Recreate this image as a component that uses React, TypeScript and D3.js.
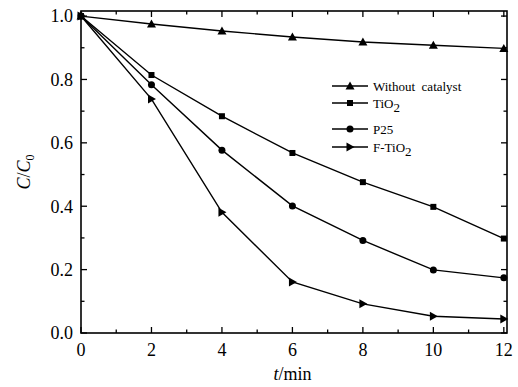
import React from 'react';
import * as d3 from 'd3';

const width = 518;
const height = 387;
const margin = { top: 11, right: 11, bottom: 54, left: 81 };

const times = [0, 2, 4, 6, 8, 10, 12];
const withoutCatalyst = [1.0, 0.975, 0.953, 0.934, 0.918, 0.908, 0.898];
const tio2 = [1.0, 0.814, 0.684, 0.568, 0.476, 0.398, 0.298];
const p25 = [1.0, 0.783, 0.577, 0.401, 0.292, 0.199, 0.174];
const fTio2 = [1.0, 0.738, 0.381, 0.161, 0.092, 0.053, 0.044];

const xTicks = [0, 2, 4, 6, 8, 10, 12];
const yTicks = [0.0, 0.2, 0.4, 0.6, 0.8, 1.0];

const font = "'Liberation Serif', 'DejaVu Serif', serif";

type MarkerKind = 'triangle' | 'square' | 'circle' | 'right';

const series: { name: string; sub?: string; values: number[]; marker: MarkerKind }[] = [
	{ name: 'Without  catalyst', values: withoutCatalyst, marker: 'triangle' },
	{ name: 'TiO', sub: '2', values: tio2, marker: 'square' },
	{ name: 'P25', values: p25, marker: 'circle' },
	{ name: 'F-TiO', sub: '2', values: fTio2, marker: 'right' }
];

const Marker = ({ kind, x, y }: { kind: MarkerKind; x: number; y: number }) => {
	if (kind === 'square') return <rect x={x - 3} y={y - 3} width={6} height={6} fill="#000" />;
	if (kind === 'circle') return <circle cx={x} cy={y} r={3.5} fill="#000" />;
	if (kind === 'triangle')
		return <path d={`M${x},${y - 4.5}L${x + 4.5},${y + 3.5}L${x - 4.5},${y + 3.5}Z`} fill="#000" />;
	return <path d={`M${x + 4.5},${y}L${x - 3.5},${y - 4.5}L${x - 3.5},${y + 4.5}Z`} fill="#000" />;
};

export default function App() {
	const x = d3.scaleLinear().domain([0, 12.09]).range([margin.left, width - margin.right]);
	const y = d3.scaleLinear().domain([0, 1.016]).range([height - margin.bottom, margin.top]);
	const line = d3
		.line<number>()
		.x((d, i) => x(times[i]))
		.y(d => y(d));

	const x0 = margin.left;
	const x1 = width - margin.right;
	const y0 = height - margin.bottom;
	const y1 = margin.top;

	const xMinor = d3.range(0, 13, 1);
	const yMinor = d3.range(0, 11, 1).map(v => v / 10);

	// legend
	const lx = 332;
	const legendRows = [86, 103, 129, 147];
	const txt = { fontFamily: font };

	return (
		<svg width={width} height={height} style={{ position: 'absolute', left: 0, top: 0, fontFamily: font }}>
			<rect width={width} height={height} fill="#fff" />
			{/* ticks on all four sides, pointing inward */}
			{xMinor.map(v => {
				const major = v % 2 === 0;
				const len = major ? 6 : 3.5;
				return (
					<g key={'xt' + v} stroke="#000" strokeWidth={1.3}>
						<line x1={x(v)} x2={x(v)} y1={y0} y2={y0 - len} />
						<line x1={x(v)} x2={x(v)} y1={y1} y2={y1 + len} />
					</g>
				);
			})}
			{yMinor.map((v, i) => {
				const major = i % 2 === 0;
				const len = major ? 6 : 3.5;
				return (
					<g key={'yt' + i} stroke="#000" strokeWidth={1.3}>
						<line x1={x0} x2={x0 + len} y1={y(v)} y2={y(v)} />
						<line x1={x1} x2={x1 - len} y1={y(v)} y2={y(v)} />
					</g>
				);
			})}
			<rect x={x0} y={y1} width={x1 - x0} height={y0 - y1} fill="none" stroke="#000" strokeWidth={1.6} />

			{xTicks.map(v => (
				<text key={'xl' + v} x={x(v)} y={356} textAnchor="middle" style={txt} fontSize={18}>
					{v}
				</text>
			))}
			{yTicks.map(v => (
				<text key={'yl' + v} x={73} y={y(v)} dy="0.35em" textAnchor="end" style={txt} fontSize={18}>
					{v.toFixed(1)}
				</text>
			))}

			<text x={x(6)} y={380} textAnchor="middle" style={txt} fontSize={18}>
				<tspan fontStyle="italic">t</tspan>/min
			</text>
			<text transform={`translate(30,172) rotate(-90)`} textAnchor="middle" style={txt} fontSize={18}>
				<tspan fontStyle="italic">C</tspan>/<tspan fontStyle="italic">C</tspan>
				<tspan fontSize={12} dy={4}>0</tspan>
			</text>

			{series.map(s => (
				<g key={s.name}>
					<path d={line(s.values) || ''} fill="none" stroke="#000" strokeWidth={1.4} />
					{s.values.map((v, i) => (
						<Marker key={i} kind={s.marker} x={x(times[i])} y={y(v)} />
					))}
				</g>
			))}

			{series.map((s, i) => (
				<g key={'lg' + s.name}>
					<line x1={lx} x2={lx + 36} y1={legendRows[i]} y2={legendRows[i]} stroke="#000" strokeWidth={1.4} />
					<Marker kind={s.marker} x={lx + 18} y={legendRows[i]} />
					<text
						x={lx + 41}
						y={legendRows[i]}
						dy="0.35em"
						fontSize={13}
						style={{ fontFamily: font, whiteSpace: 'pre' }}
					>
						{s.name}
						{s.sub && (
							<tspan fontSize={13} dy={4}>
								{s.sub}
							</tspan>
						)}
					</text>
				</g>
			))}
		</svg>
	);
}
